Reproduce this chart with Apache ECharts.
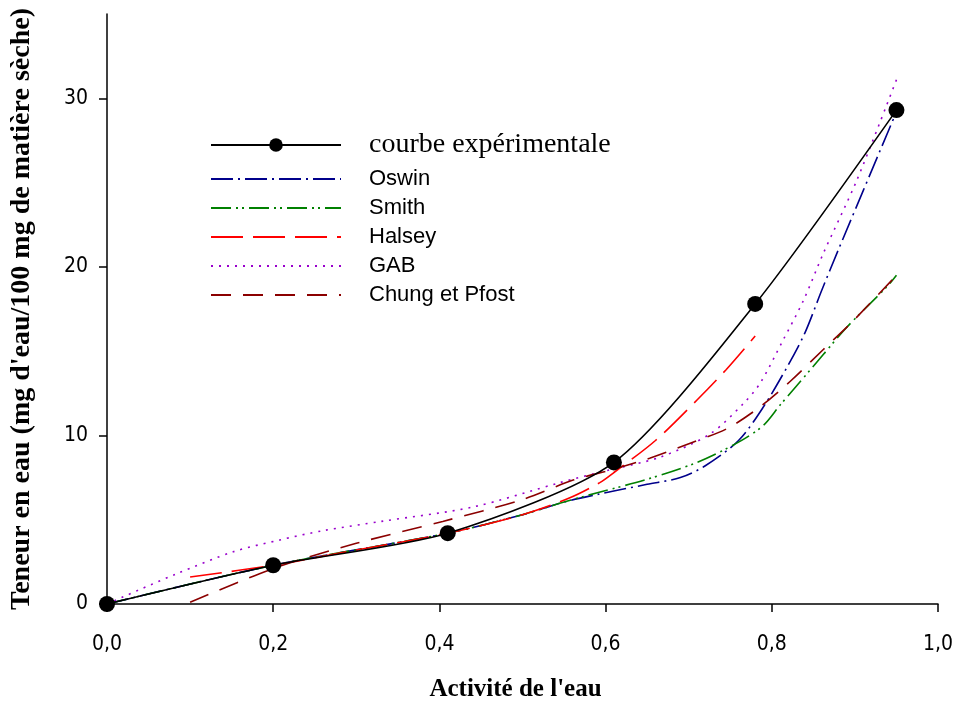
<!DOCTYPE html>
<html>
<head>
<meta charset="utf-8">
<script src="https://cdn.jsdelivr.net/npm/echarts@6/dist/echarts.min.js"></script>
<style>html,body{margin:0;padding:0;background:#fff}#c{width:958px;height:704px}</style>
</head>
<body>
<div id="c"></div>
<script>
// Data
const xTicks = [0, 0.2, 0.4, 0.6, 0.8, 1.0];
const yTicks = [0, 10, 20, 30];
const seriesNames = ['courbe expérimentale', 'Oswin', 'Smith', 'Halsey', 'GAB', 'Chung et Pfost'];

const experimental = [[0, 0], [0.2, 2.3], [0.41, 4.2], [0.61, 8.4], [0.78, 17.8], [0.95, 29.3]];
const oswin = [[0, 0], [0.2, 2.3], [0.41, 4.2], [0.5, 5.3], [0.55, 6.05], [0.59, 6.5], [0.65, 7.1], [0.69, 7.5], [0.72, 8.2], [0.76, 9.7], [0.79, 11.7], [0.82, 14.2], [0.84, 16.1], [0.86, 18.6], [0.88, 21.0], [0.95, 29.2]];
const smith = [[0, 0], [0.2, 2.3], [0.41, 4.2], [0.5, 5.3], [0.55, 6.05], [0.59, 6.6], [0.65, 7.4], [0.71, 8.4], [0.76, 9.6], [0.79, 10.6], [0.81, 11.8], [0.85, 14.1], [0.89, 16.4], [0.94, 18.9], [0.95, 19.5]];
const halsey = [[0.1, 1.6], [0.2, 2.3], [0.3, 3.2], [0.41, 4.2], [0.5, 5.3], [0.557, 6.3], [0.593, 7.2], [0.61, 7.8], [0.66, 9.7], [0.71, 12.1], [0.745, 13.9], [0.78, 15.9]];
const gab = [[0, 0], [0.016, 0.35], [0.084, 1.8], [0.152, 3.1], [0.208, 3.8], [0.26, 4.35], [0.33, 4.9], [0.44, 5.75], [0.545, 7.2], [0.6, 7.9], [0.665, 8.7], [0.726, 10.1], [0.766, 11.9], [0.786, 13.1], [0.813, 15.6], [0.838, 18.0], [0.862, 20.8], [0.902, 25.1], [0.95, 31.1]];
const chung = [[0.1, 0.1], [0.2, 2.1], [0.3, 3.6], [0.404, 4.9], [0.5, 6.2], [0.561, 7.35], [0.61, 8.0], [0.653, 8.65], [0.705, 9.6], [0.746, 10.4], [0.786, 11.7], [0.822, 13.2], [0.862, 15.1], [0.898, 16.8], [0.95, 19.5]];

const colors = ['#000000', '#00008B', '#008000', '#FF0000', '#9900CC', '#8B0000'];
const dashes = ['solid', [22, 5, 2, 5], [20, 5, 2, 4, 2, 5], [32, 10], [2, 6], [20, 12]];
const datasets = [experimental, oswin, smith, halsey, gab, chung];

const chart = echarts.init(document.getElementById('c'));
const tickFont = '"Liberation Sans Narrow", "Arial Narrow", "DejaVu Sans Condensed", "Liberation Sans", sans-serif';
const serif = '"Liberation Serif", "Times New Roman", serif';
const fmt = v => v.toFixed(1).replace('.', ',');

const series = datasets.map((d, i) => ({
  name: seriesNames[i],
  type: 'line',
  data: d,
  smooth: i === 0 ? 0.25 : 0.3,
  showSymbol: i === 0,
  symbol: 'circle',
  symbolSize: 16,
  itemStyle: { color: colors[i], opacity: i === 0 ? 1 : 0 },
  lineStyle: { color: colors[i], width: 1.6, type: dashes[i], opacity: 1 },
  z: i === 0 ? 3 : 2,
  animation: false
}));

chart.setOption({
  animation: false,
  backgroundColor: '#ffffff',
  grid: { left: 107, right: 20, top: 14, bottom: 100, outerBoundsMode: 'none', containLabel: false },
  legend: {
    orient: 'vertical',
    left: 210,
    top: 129,
    padding: 0,
    itemWidth: 130,
    itemHeight: 17,
    itemGap: 7,
    data: seriesNames.map((n, i) => ({
      name: n,
      textStyle: i === 0
        ? { fontFamily: serif, fontSize: 28, lineHeight: 32, color: '#000', padding: [0, 0, 0, 23] }
        : { fontFamily: '"Liberation Sans", Arial, sans-serif', fontSize: 22, lineHeight: 22, color: '#000', padding: [0, 0, 0, 23] }
    })),
    selectedMode: false
  },
  xAxis: {
    type: 'value',
    min: 0, max: 1, interval: 0.2,
    name: "Activité de l'eau",
    nameLocation: 'middle',
    nameGap: 73,
    nameTextStyle: { fontFamily: serif, fontWeight: 'bold', fontSize: 25, color: '#000', padding: [0, 14, 0, 0] },
    axisLine: { lineStyle: { color: '#000', width: 1.5 } },
    axisTick: { show: true, inside: false, length: 8, lineStyle: { color: '#000', width: 1.5 } },
    axisLabel: { formatter: fmt, fontFamily: tickFont, fontSize: 21, color: '#000', margin: 30 },
    splitLine: { show: false }
  },
  yAxis: {
    type: 'value',
    min: 0, max: 35, interval: 10,
    name: "Teneur en eau (mg d'eau/100 mg de matière sèche)",
    nameLocation: 'middle',
    nameGap: 71,
    nameTextStyle: { fontFamily: serif, fontWeight: 'bold', fontSize: 28, color: '#000' },
    axisLine: { show: true, lineStyle: { color: '#000', width: 1.5 } },
    axisTick: { show: true, inside: false, length: 8, customValues: yTicks, lineStyle: { color: '#000', width: 1.5 } },
    axisLabel: { customValues: yTicks, fontFamily: tickFont, fontSize: 21, color: '#000', margin: 19 },
    splitLine: { show: false }
  },
  series: series
});
</script>
</body>
</html>
